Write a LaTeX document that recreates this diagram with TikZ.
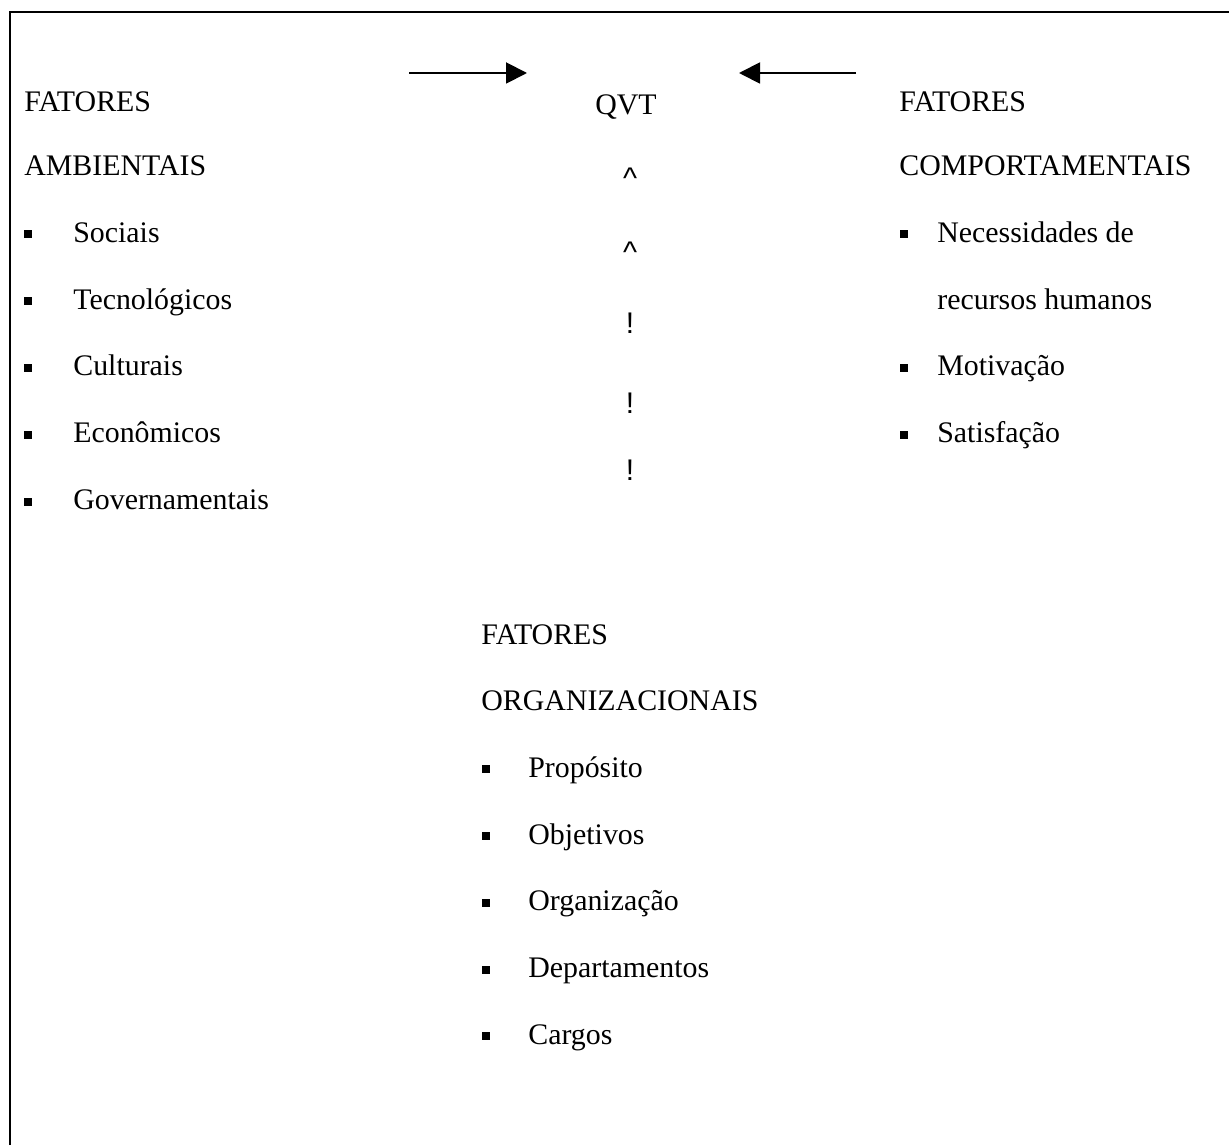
\documentclass[tikz,border=0pt]{standalone}
\usepackage{fontspec}
\setmainfont{Liberation Serif}
\newfontfamily\sinalfont{Liberation Sans}
\usetikzlibrary{arrows.meta}

\begin{document}
\begin{tikzpicture}[x=0.02cm,y=-0.02cm,
  txt/.style={inner sep=0pt,anchor=base west,font=\fontsize{17}{20}\selectfont},
  bul/.style={fill=black,inner sep=0pt,minimum size=0.16cm},
  sinal/.style={inner sep=0pt,font=\sinalfont\fontsize{17}{20}\selectfont},
  seta/.style={line width=1.1pt,-{Triangle[length=0.42cm,width=0.42cm]}}]
  \useasboundingbox (0,0) rectangle (1229,1145);
  \draw[line width=1.1pt] (10,1145) -- (10,12) -- (1229,12);

  \node[txt] (ambA) at (24,112) {FATORES};
  \node[txt] (ambB) at (24,175.5) {AMBIENTAIS};
  \foreach \t [count=\i] in {Sociais,Tecnológicos,Culturais,Econômicos,Governamentais} {
    \node[bul] (ambP\i) at (28,{175.5+66.8*\i-8}) {};
    \node[txt] (amb\i) at (73,{175.5+66.8*\i}) {\t};
  }

  \node[txt] (comA) at (899,112) {FATORES};
  \node[txt] (comB) at (899,175.5) {COMPORTAMENTAIS};
  \node[bul] (comP1) at (904,234.3) {};
  \node[txt] (com1) at (937,242.3) {Necessidades de};
  \node[txt] (com1b) at (937,309.1) {recursos humanos};
  \node[bul] (comP2) at (904,367.9) {};
  \node[txt] (com2) at (937,375.9) {Motivação};
  \node[bul] (comP3) at (904,434.7) {};
  \node[txt] (com3) at (937,442.7) {Satisfação};

  \node[txt,anchor=base] (qvt) at (626,115) {QVT};
  \node[sinal,anchor=north] (c1) at (630,168) {\textasciicircum};
  \node[sinal,anchor=north] (c2) at (630,242) {\textasciicircum};
  \foreach \y [count=\i] in {333,413,480} {
    \node[sinal,anchor=base] (e\i) at (630,\y) {!};
  }

  \coordinate (esqA) at (409,73);
  \coordinate (esqB) at (527,73);
  \coordinate (dirA) at (856,73);
  \coordinate (dirB) at (739,73);
  \draw[seta] (esqA) -- (esqB);
  \draw[seta] (dirA) -- (dirB);

  \node[txt] (orgA) at (481,644) {FATORES};
  \node[txt] (orgB) at (481,710.7) {ORGANIZACIONAIS};
  \foreach \t [count=\i] in {Propósito,Objetivos,Organização,Departamentos,Cargos} {
    \node[bul] (orgP\i) at (486,{710.7+66.7*\i-8}) {};
    \node[txt] (org\i) at (528,{710.7+66.7*\i}) {\t};
  }
\end{tikzpicture}
\end{document}
